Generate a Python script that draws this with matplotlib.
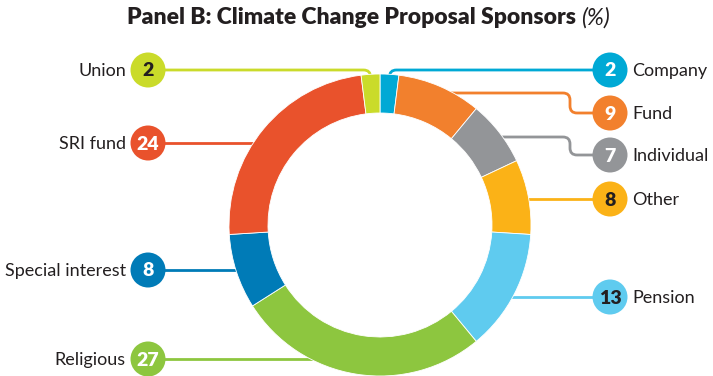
import numpy as np
import matplotlib.pyplot as plt
from matplotlib.path import Path
from matplotlib.patches import PathPatch, Circle

# sponsor shares, clockwise from 12 o'clock
sponsors = ['Company', 'Fund', 'Individual', 'Other', 'Pension',
            'Religious', 'Special interest', 'SRI fund', 'Union']
shares = [2, 9, 7, 8, 13, 27, 8, 24, 2]
colors = ['#00a9d5', '#f2802d', '#939598', '#fbb217', '#5fcbef',
          '#8dc63f', '#007bb7', '#e9522c', '#cadb2a']
number_colors = ['white', 'white', 'white', '#231f20', '#231f20',
                 'white', 'white', 'white', '#231f20']

# callout layout (pixel units, y measured from top)
badge_side = ['R', 'R', 'R', 'R', 'R', 'L', 'L', 'L', 'L']
badge_y = [70, 113, 155, 199, 297, 359, 270, 143, 70]
leader_y = [None, 93, 137, None, None, None, None, None, None]
badge_x = {'R': 610, 'L': 148}
badge_r = 17.5
elbow_x = 570

W, H = 713, 376
cx, cy_top = 380, 225
R_out, ring_w = 151, 39

FONT = ['Lato', 'DejaVu Sans']
ink = '#231f20'

fig = plt.figure(figsize=(W / 100, H / 100), dpi=100)
ax = fig.add_axes([0, 0, 1, 1])
cy = H - cy_top

ax.pie(shares, colors=colors, startangle=90, counterclock=False,
       center=(cx, cy), radius=R_out,
       wedgeprops=dict(width=ring_w, edgecolor='white', linewidth=0.6, zorder=3))
ax.set_xlim(0, W)
ax.set_ylim(0, H)
ax.set_aspect('auto')
ax.axis('off')


def ring_x(y_px, side):
    dy = cy_top - y_px
    dx = np.sqrt(max(R_out ** 2 - dy ** 2, 0)) - 8
    return cx + dx if side == 'R' else cx - dx


def leader(points, corner=7):
    # polyline with rounded elbows
    verts = [points[0]]
    codes = [Path.MOVETO]
    for i in range(1, len(points) - 1):
        p0, p1, p2 = map(np.array, points[i - 1:i + 2])
        a = p1 - (p1 - p0) / np.linalg.norm(p1 - p0) * corner
        b = p1 + (p2 - p1) / np.linalg.norm(p2 - p1) * corner
        verts += [tuple(a), tuple(p1), tuple(b)]
        codes += [Path.LINETO, Path.CURVE3, Path.CURVE3]
    verts.append(points[-1])
    codes.append(Path.LINETO)
    return Path(verts, codes)


start = 90.0
for i, name in enumerate(sponsors):
    theta1 = start
    start -= shares[i] * 3.6
    mid = np.deg2rad((theta1 + start) / 2)
    side = badge_side[i]
    bx = badge_x[side]
    by = H - badge_y[i]
    sgn = 1 if side == 'R' else -1

    if abs(badge_y[i] - (cy_top - R_out)) < 10:
        # segments at the top: short drop onto the ring, then across
        ax_ = cx + R_out * np.cos(mid)
        top = cy + R_out
        pts = [(ax_, top - 8), (ax_, by), (bx, by)]
    elif leader_y[i] is not None:
        ly = H - leader_y[i]
        pts = [(ring_x(leader_y[i], side), ly), (elbow_x, ly), (elbow_x, by), (bx, by)]
    else:
        pts = [(ring_x(badge_y[i], side), by), (bx, by)]
    ax.add_patch(PathPatch(leader(pts), fill=False, edgecolor=colors[i],
                           lw=2.0, capstyle='butt', zorder=2))

    ax.add_patch(Circle((bx, by), badge_r, facecolor=colors[i], edgecolor='none', zorder=4))
    ax.text(bx, by - 1, str(shares[i]), ha='center', va='center', color=number_colors[i],
            fontsize=14, fontweight='heavy', family=FONT, zorder=5)
    ax.text(bx + sgn * 22, by - 1, name, ha='left' if side == 'R' else 'right',
            va='center', color=ink, fontsize=13, family=FONT, zorder=5)

title = ax.text(127, H - 18, 'Panel B: Climate Change Proposal Sponsors', ha='left',
                va='center', fontsize=16.5, fontweight='heavy', color=ink, family=FONT)
fig.canvas.draw()
bb = title.get_window_extent().transformed(ax.transData.inverted())
ax.text(bb.x1 + 5, H - 18, '(%)', ha='left', va='center', fontsize=16.5, style='italic',
        color=ink, family=FONT)

fig.savefig('out.png', dpi=100, facecolor='white')
